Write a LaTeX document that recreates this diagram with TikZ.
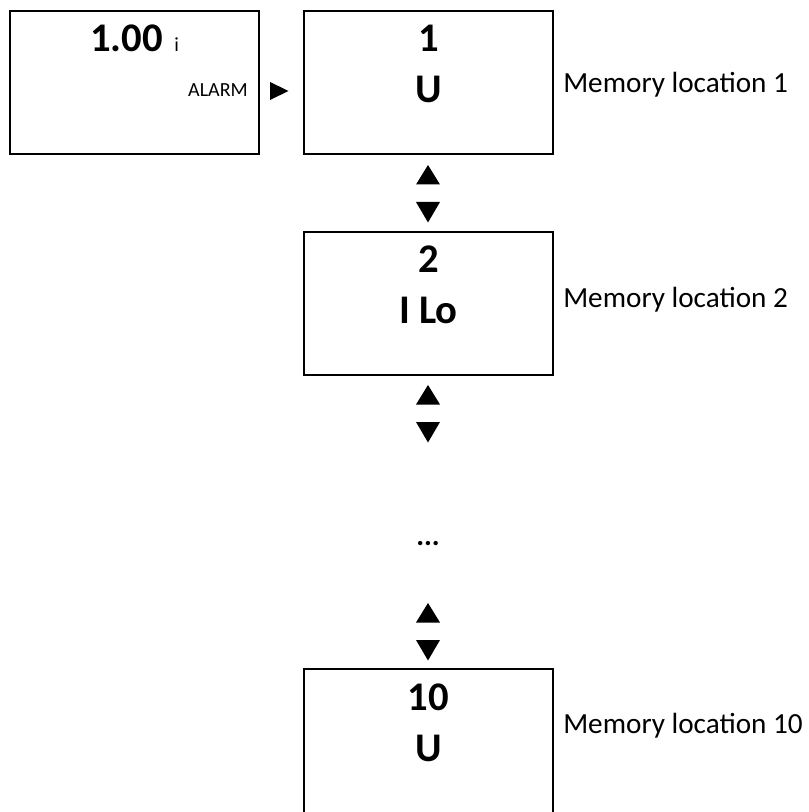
\documentclass[tikz,border=0pt]{standalone}
\usepackage{fontspec}
\setmainfont{Carlito}
\begin{document}
\begin{tikzpicture}[x=0.75pt,y=-0.75pt,
  box/.style={draw=black,line width=1.5pt,rectangle,minimum width=186.75pt,minimum height=107.25pt,inner sep=0pt,outer sep=0pt},
  big/.style={font=\fontsize{30.5}{31}\selectfont\bfseries,inner sep=0pt,anchor=base},
  lab/.style={font=\fontsize{21.9}{22}\selectfont,inner sep=0pt,anchor=base west},
  small/.style={font=\fontsize{15}{15}\selectfont,inner sep=0pt},
  tri/.style={fill=black}]
\useasboundingbox (0,0) rectangle (808,812);
% boxes
\node[box] (bA) at (134.5,82.5) {};
\node[box] (b1) at (428.5,82.5) {};
\node[box] (b2) at (428.5,303.5) {};
\node[box,minimum height=109.5pt] (b10) at (428.5,742) {};
% box A texts
\node[big] (tA) at (126.5,52) {1.00};
\node[small,anchor=base west] (tAi) at (174,52) {i};
\node[small,anchor=base east] (alarm) at (248,97) {ALARM};
% box texts
\node[big] (n1) at (428.5,52) {1};
\node[big] (u1) at (428.5,103) {U};
\node[big] (n2) at (428.5,273) {2};
\node[big] (u2) at (428.5,324) {I Lo};
\node[big] (n10) at (428.5,710) {10};
\node[big] (u10) at (428.5,761) {U};
% labels
\node[lab] (l1) at (563,93) {Memory location 1};
\node[lab] (l2) at (563,307) {Memory location 2};
\node[lab] (l10) at (563,733) {Memory location 10};
% dots
\node[font=\fontsize{22}{22}\selectfont\bfseries,inner sep=0pt,anchor=base] (dots) at (428,545) {...};
% triangles
\fill[tri] (270,82) -- (288.5,91) -- (270,100) -- cycle;
\foreach \u/\d in {165/202, 385/422, 603/640}{
  \fill[tri] (416,\u+19.5) -- (440,\u+19.5) -- (428,\u) -- cycle;
  \fill[tri] (416,\d) -- (440,\d) -- (428,\d+20.5) -- cycle;
}
\end{tikzpicture}
\end{document}
